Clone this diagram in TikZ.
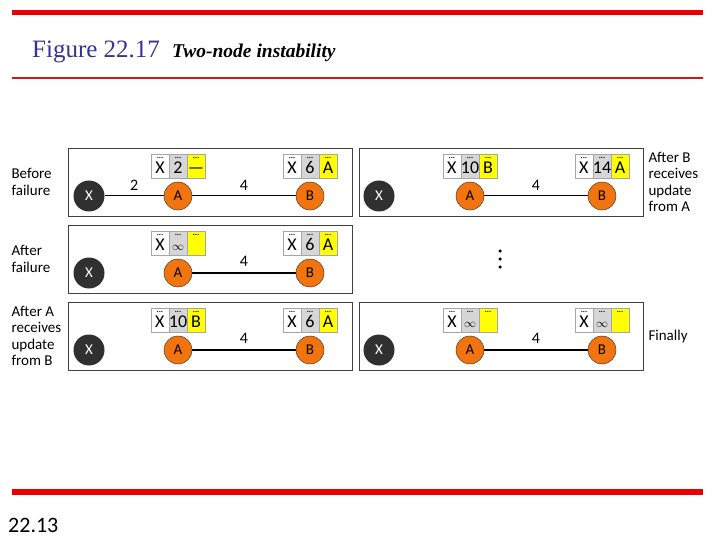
\documentclass[tikz,border=0pt]{standalone}
\usepackage{fontspec}
\setmainfont{Liberation Serif}
\setsansfont{Carlito}
\usetikzlibrary{positioning}
\definecolor{slidered}{RGB}{235,0,0}
\definecolor{ruledred}{RGB}{205,25,25}
\definecolor{titleblue}{RGB}{51,51,153}
\definecolor{nodeorange}{RGB}{242,116,14}
\definecolor{nodedark}{RGB}{48,48,48}
\definecolor{cellgrey}{RGB}{214,214,214}
\definecolor{cellyellow}{RGB}{255,255,0}
\newcommand{\celltext}[1]{{\fontsize{8}{8}\selectfont\bfseries ...}\\#1}
\newcommand{\inftext}{{\fontsize{12}{12}\selectfont$\infty$}}
% routing table of one node: dest, cost, next hop
\newcommand{\rtable}[3]{%
  \node[gcell, above=4pt of #1] (#1cost) {\celltext{#2}};
  \node[wcell, left=0pt of #1cost] (#1dst) {\celltext{X}};
  \node[ycell, right=0pt of #1cost] (#1hop) {\celltext{#3}};}
\tikzset{
  panel/.style={rectangle, draw=black!75, line width=1pt, fill=white,
              minimum width=284pt, minimum height=68pt, anchor=north west},
  rnode/.style={circle, draw=black!85, fill=nodeorange, minimum size=28pt,
              inner sep=0pt, font=\sffamily\fontsize{15}{15}\selectfont},
  xnode/.style={circle, fill=nodedark, text=white, minimum size=31pt,
              inner sep=0pt, font=\sffamily\fontsize{15}{15}\selectfont},
  cell/.style={rectangle, draw=black!35, minimum width=18pt, minimum height=24pt,
              inner sep=0pt, outer sep=0pt, align=center, font=\sffamily\fontsize{18}{15}\selectfont},
  wcell/.style={cell, fill=white},
  gcell/.style={cell, fill=cellgrey},
  ycell/.style={cell, fill=cellyellow},
  link/.style={line width=1pt, draw=black},
  heavylink/.style={line width=1.6pt, draw=black},
  weight/.style={midway, above=2pt, font=\sffamily\fontsize{16}{16}\selectfont},
  sidetext/.style={anchor=west, align=left, font=\sffamily\fontsize{15}{16.5}\selectfont},
  dotmark/.style={circle, fill=black, minimum size=3.5pt, inner sep=0pt},
}

\begin{document}
\begin{tikzpicture}[x=1pt, y=-1pt]
    \useasboundingbox (0,0) rectangle (720,540);
    % slide frame
    \fill[slidered] (12,10) rectangle (703,15);
    \fill[ruledred] (12,77) rectangle (703,79.5);
    \fill[slidered] (12,489) rectangle (703,495);
    \node[anchor=base west, inner sep=0pt, text=titleblue, font=\fontsize{25}{25}\selectfont]
        (fig) at (32,58) {Figure 22.17};
    \node[anchor=base west, inner sep=0pt, font=\fontsize{19.5}{19.5}\selectfont\bfseries\itshape]
        (cap) at (172,58) {Two-node instability};
    \node[anchor=base west, inner sep=0pt, font=\sffamily\fontsize{22}{22}\selectfont]
        (pg) at (8,532) {22.13};

    % panels
    \node[panel] (p1) at (68,148) {};
    \node[panel] (p2) at (359,148) {};
    \node[panel] (p3) at (68,225) {};
    \node[panel] (p4) at (68,302) {};
    \node[panel] (p5) at (359,302) {};

    % before failure
    \node[xnode] (x1) at (89,196) {X};
    \node[rnode] (a1) at (178,196) {A};
    \node[rnode] (b1) at (310,196) {B};
    \draw[link] (x1) -- node[weight] (w1) {2} (a1);
    \draw[link] (a1) -- node[weight] (w2) {4} (b1);
    \rtable{a1}{2}{—}
    \rtable{b1}{6}{A}

    % after B receives update from A
    \node[xnode] (x2) at (379,196) {X};
    \node[rnode] (a2) at (470,196) {A};
    \node[rnode] (b2) at (602,196) {B};
    \draw[link] (a2) -- node[weight] (w3) {4} (b2);
    \rtable{a2}{10}{B}
    \rtable{b2}{14}{A}

    % after failure
    \node[xnode] (x3) at (89,273) {X};
    \node[rnode] (a3) at (178,273) {A};
    \node[rnode] (b3) at (310,273) {B};
    \draw[heavylink] (a3) -- node[weight] (w4) {4} (b3);
    \rtable{a3}{\inftext}{}
    \rtable{b3}{6}{A}

    % after A receives update from B
    \node[xnode] (x4) at (89,350) {X};
    \node[rnode] (a4) at (178,350) {A};
    \node[rnode] (b4) at (310,350) {B};
    \draw[heavylink] (a4) -- node[weight] (w5) {4} (b4);
    \rtable{a4}{10}{B}
    \rtable{b4}{6}{A}

    % finally
    \node[xnode] (x5) at (379,350) {X};
    \node[rnode] (a5) at (470,350) {A};
    \node[rnode] (b5) at (602,350) {B};
    \draw[heavylink] (a5) -- node[weight] (w6) {4} (b5);
    \rtable{a5}{\inftext}{}
    \rtable{b5}{\inftext}{}

    \node[dotmark] (d1) at (500,251) {};
    \node[dotmark] (d2) at (500,259) {};
    \node[dotmark] (d3) at (500,267) {};

    % stage labels
    \node[sidetext] (s1) at (8,182) {Before\\failure};
    \node[sidetext] (s2) at (8,259) {After\\failure};
    \node[sidetext] (s3) at (8,336) {After A\\receives\\update\\from B};
    \node[sidetext] (s4) at (645,182) {After B\\receives\\update\\from A};
    \node[sidetext] (s5) at (645,336) {Finally};
\end{tikzpicture}
\end{document}
